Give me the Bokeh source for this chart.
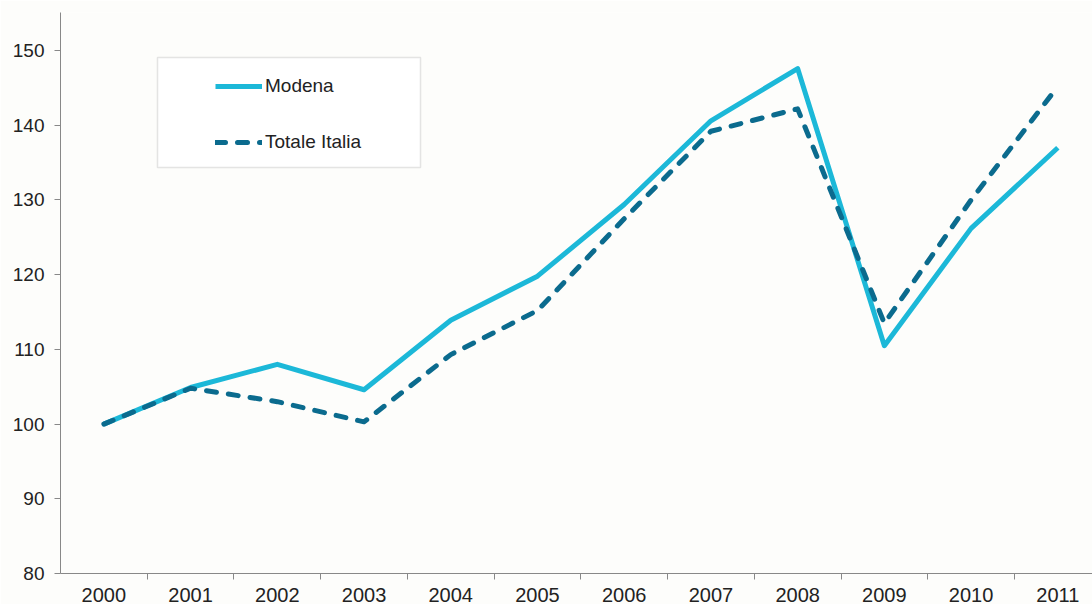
from bokeh.plotting import figure
from bokeh.models import (Range1d, FixedTicker, Legend, LegendItem, BoxAnnotation)
from bokeh.embed import file_html
from bokeh.resources import INLINE

years = ["2000", "2001", "2002", "2003", "2004", "2005", "2006", "2007", "2008", "2009", "2010", "2011"]
modena = [100, 104.9, 108.0, 104.6, 113.9, 119.8, 129.4, 140.6, 147.6, 110.5, 126.2, 137.0]
italia = [100, 104.8, 103.0, 100.3, 109.3, 115.2, 127.5, 139.2, 142.2, 113.5, 130.0, 145.2]
y_ticks = [80, 90, 100, 110, 120, 130, 140, 150]

xs = list(range(len(years)))
FONT = "Liberation Sans"
BG = "#fdfdfb"

p = figure(width=1092, height=604, output_backend="svg", toolbar_location=None,
           x_range=Range1d(-0.5, 11.40), y_range=Range1d(80, 155.1),
           min_border_left=60, min_border_right=0, min_border_top=12, min_border_bottom=31,
           background_fill_color=BG, border_fill_color=BG)
p.outline_line_color = None
p.grid.visible = False

r1 = p.line(xs, modena, line_color="#1cb8d8", line_width=5, line_join="round")
r2 = p.line(xs, italia, line_color="#0b6b8e", line_width=5, line_dash="10 12",
            line_cap="round", line_join="round")

# x axis: labels at category centres, ticks at boundaries
xa = p.xaxis[0]
xa.ticker = FixedTicker(ticks=xs, minor_ticks=[i + 0.5 for i in xs])
xa.major_label_overrides = {i: y for i, y in zip(xs, years)}
xa.major_tick_out = 0
xa.major_tick_in = 0
xa.minor_tick_out = 6
xa.minor_tick_in = 0
xa.minor_tick_line_color = "#888888"
xa.axis_line_color = "#888888"
xa.major_label_text_font = FONT
xa.major_label_text_font_size = "20px"
xa.major_label_text_color = "#222222"
xa.major_label_standoff = 8

ya = p.yaxis[0]
ya.ticker = FixedTicker(ticks=y_ticks)
ya.major_tick_out = 6
ya.major_tick_in = 0
ya.minor_tick_out = 0
ya.minor_tick_in = 0
ya.major_tick_line_color = "#888888"
ya.axis_line_color = "#888888"
ya.major_label_text_font = FONT
ya.major_label_text_font_size = "19px"
ya.major_label_text_color = "#222222"
ya.major_label_standoff = 10

# legend frame (screen units relative to the plot frame, y from bottom)
box = BoxAnnotation(left=97, right=360, top=516, bottom=406,
                    left_units="screen", right_units="screen",
                    top_units="screen", bottom_units="screen",
                    fill_color="white", fill_alpha=1.0,
                    line_color="#aaaaaa", line_width=1.5, level="underlay")
p.add_layout(box)

legend = Legend(items=[LegendItem(label="Modena", renderers=[r1]),
                       LegendItem(label="Totale Italia", renderers=[r2])],
                location=(155, 420), orientation="vertical",
                border_line_color=None, background_fill_alpha=0,
                padding=17, spacing=34, glyph_width=47, glyph_height=20,
                label_height=20, label_standoff=3,
                label_text_font=FONT, label_text_font_size="19px",
                label_text_color="#222222", margin=0)
p.add_layout(legend)

open("out.html", "w").write(file_html(p, INLINE))
